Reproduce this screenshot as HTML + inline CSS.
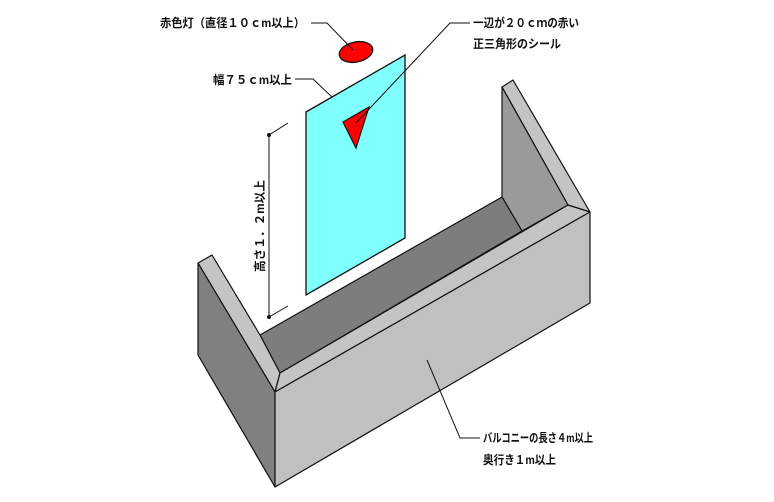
<!DOCTYPE html>
<html><head><meta charset="utf-8"><style>
html,body{margin:0;padding:0;background:#fff;}
svg{display:block}
text{font-family:"Liberation Sans","Noto Sans CJK JP",sans-serif;font-weight:bold;font-size:12px;fill:#111}
</style></head><body>
<svg width="774" height="502" viewBox="0 0 774 502" xmlns="http://www.w3.org/2000/svg">
<rect width="774" height="502" fill="#fff"/>
<!-- balcony -->
<g stroke="#111" stroke-width="1.2" stroke-linejoin="round">
  <!-- right wall top -->
  <polygon points="502,87 513,80 590,212 568,205" fill="#c4c4c4"/>
  <!-- right wall inner face -->
  <polygon points="502,87 568,205 522,231 502,197" fill="#9a9a9a"/>
  <!-- back inner band -->
  <polygon points="260,335 502,197 522,231 280,373" fill="#7d7d7d"/>
  <!-- left wall top -->
  <polygon points="198,263 212,255 260,335 280,373 275,392" fill="#c4c4c4"/>
  <!-- front wall top -->
  <polygon points="280,373 568,205 590,212 275,392" fill="#c4c4c4"/>
  <!-- left outer face -->
  <polygon points="198,263 275,392 275,487 198,355" fill="#808080"/>
  <!-- front face -->
  <polygon points="275,392 590,212 590,303 275,487" fill="#c0c0c0"/>
</g>
<!-- panel -->
<polygon points="306,112 405,55 405,238 306,295" fill="#80ffff" stroke="#111" stroke-width="1.3"/>
<!-- triangle -->
<polygon points="343,122 369,107 356,148" fill="#ff0000" stroke="#111" stroke-width="1.2"/>
<!-- lamp -->
<ellipse cx="356" cy="52" rx="17" ry="10" transform="rotate(-12 356 52)" fill="#ff0000" stroke="#111" stroke-width="1.3"/>
<!-- leaders -->
<g stroke="#111" stroke-width="1" fill="none">
  <polyline points="353,50 327,23 311,23"/>
  <polyline points="356,123 450,23 470,23"/>
  <polyline points="332,97 313,79 295,79"/>
  <polyline points="427,360 460,438 480,438"/>
  <line x1="269" y1="135" x2="269" y2="317"/>
  <line x1="269" y1="135" x2="288" y2="123"/>
  <line x1="269" y1="317" x2="288" y2="306"/>
</g>
<circle cx="269" cy="135" r="2" fill="#111"/>
<circle cx="269" cy="317" r="2" fill="#111"/>
<!-- labels -->
<text x="160" y="27" textLength="145" lengthAdjust="spacingAndGlyphs">赤色灯（直径１０ｃm以上）</text>
<text x="473" y="27" textLength="106" lengthAdjust="spacingAndGlyphs">一辺が２０ｃｍの赤い</text>
<text x="473" y="48" textLength="88" lengthAdjust="spacingAndGlyphs">正三角形のシール</text>
<text x="213" y="84" textLength="79" lengthAdjust="spacingAndGlyphs">幅７５ｃm以上</text>
<text x="0" y="0" transform="translate(264,272) rotate(-90)" textLength="92" lengthAdjust="spacingAndGlyphs">高さ１．２m以上</text>
<text x="483" y="442" textLength="110" lengthAdjust="spacingAndGlyphs">バルコニーの長さ４m以上</text>
<text x="483" y="464" textLength="73" lengthAdjust="spacingAndGlyphs">奥行き１m以上</text>
</svg>
</body></html>
